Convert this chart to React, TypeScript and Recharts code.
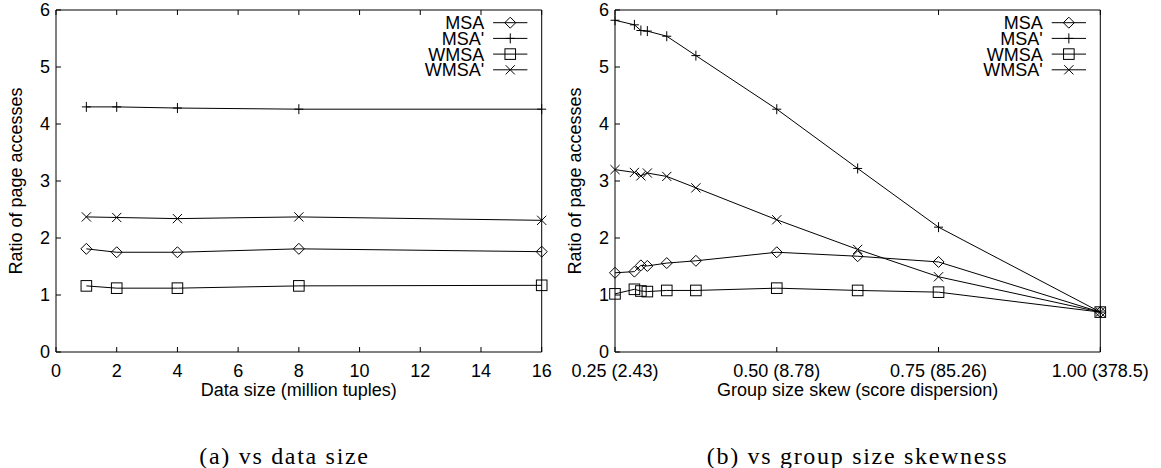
import React from "react";
import { LineChart, Line, XAxis, YAxis, Legend } from "recharts";

const FONT = "'Liberation Sans', Arial, Helvetica, sans-serif";
const SERIF = "'Liberation Serif', 'Times New Roman', serif";

// (a) vs data size
const dataSizes = [1, 2, 4, 8, 16];
const sizeMSA = [1.81, 1.75, 1.75, 1.81, 1.76];
const sizeMSAp = [4.3, 4.3, 4.28, 4.26, 4.26];
const sizeWMSA = [1.16, 1.12, 1.12, 1.16, 1.17];
const sizeWMSAp = [2.37, 2.36, 2.34, 2.37, 2.31];
const sizeTicks = [0, 2, 4, 6, 8, 10, 12, 14, 16];

// (b) vs group size skewness
const skews = [0.25, 0.28, 0.29, 0.3, 0.33, 0.375, 0.5, 0.625, 0.75, 1.0];
const skewMSA = [1.39, 1.41, 1.52, 1.51, 1.56, 1.6, 1.75, 1.68, 1.58, 0.7];
const skewMSAp = [5.82, 5.74, 5.64, 5.63, 5.54, 5.2, 4.26, 3.22, 2.19, 0.7];
const skewWMSA = [1.02, 1.1, 1.07, 1.06, 1.08, 1.08, 1.12, 1.08, 1.05, 0.7];
const skewWMSAp = [3.2, 3.15, 3.09, 3.14, 3.08, 2.88, 2.32, 1.8, 1.32, 0.7];
const skewTicks = [0.25, 0.5, 0.75, 1.0];
const skewTickLabels = ["0.25 (2.43)", "0.50 (8.78)", "0.75 (85.26)", "1.00 (378.5)"];

const ratioTicks = [0, 1, 2, 3, 4, 5, 6];

const seriesKeys = ["msa", "msaP", "wmsa", "wmsaP"];
const seriesNames = ["MSA", "MSA'", "WMSA", "WMSA'"];
const seriesShapes = ["diamond", "plus", "square", "cross"];

const sizeRows = dataSizes.map((x, i) => ({
  x,
  msa: sizeMSA[i],
  msaP: sizeMSAp[i],
  wmsa: sizeWMSA[i],
  wmsaP: sizeWMSAp[i],
}));

const skewRows = skews.map((x, i) => ({
  x,
  msa: skewMSA[i],
  msaP: skewMSAp[i],
  wmsa: skewWMSA[i],
  wmsaP: skewWMSAp[i],
}));

// layout (gnuplot-like boxed plot)
const PLOT_TOP = 10;
const CHART_H = 408;
const BOTTOM_AXIS_H = 56;
const Y_AXIS_W = 56;
const TICK_LEN = 5;
const XLABEL_GAP = 24.5;
const YLABEL_GAP = 6;

function Marker({ cx, cy, shape }: { cx?: number; cy?: number; shape: string }) {
  if (cx == null || cy == null) return null;
  if (shape === "diamond") {
    const r = 5.5;
    return (
      <polygon
        points={`${cx},${cy - r} ${cx + r},${cy} ${cx},${cy + r} ${cx - r},${cy}`}
        fill="none"
        stroke="#000"
      />
    );
  }
  if (shape === "plus") {
    return <path d={`M${cx - 4.5},${cy}H${cx + 4.5}M${cx},${cy - 5}V${cy + 5}`} stroke="#000" fill="none" />;
  }
  if (shape === "square") {
    const r = 5.3;
    return <rect x={cx - r} y={cy - r} width={2 * r} height={2 * r} fill="none" stroke="#000" />;
  }
  const r = 4.6;
  return (
    <path
      d={`M${cx - r},${cy - r}L${cx + r},${cy + r}M${cx - r},${cy + r}L${cx + r},${cy - r}`}
      stroke="#000"
      fill="none"
    />
  );
}

function BottomTick(props: any) {
  const { x, y, payload, format } = props;
  const axisY = y - XLABEL_GAP;
  return (
    <g>
      <line x1={x} x2={x} y1={axisY} y2={axisY - TICK_LEN} stroke="#000" />
      <text x={x} y={y} textAnchor="middle" fontSize={18} fontFamily={FONT} fill="#000">
        {format ? format(payload.value) : payload.value}
      </text>
    </g>
  );
}

function TopTick(props: any) {
  const { x, y } = props;
  return <line x1={x} x2={x} y1={y} y2={y + TICK_LEN} stroke="#000" />;
}

function LeftTick(props: any) {
  const { x, y, payload } = props;
  const axisX = x + YLABEL_GAP;
  return (
    <g>
      <line x1={axisX} x2={axisX + TICK_LEN} y1={y} y2={y} stroke="#000" />
      <text x={x} y={y + 6.4} textAnchor="end" fontSize={18} fontFamily={FONT} fill="#000">
        {payload.value}
      </text>
    </g>
  );
}

function RightTick(props: any) {
  const { x, y } = props;
  return <line x1={x} x2={x - TICK_LEN} y1={y} y2={y} stroke="#000" />;
}

function YTitle(props: any) {
  const { viewBox } = props;
  const bx = viewBox.x + 22.2;
  const cy = viewBox.y + viewBox.height / 2;
  return (
    <text
      x={bx}
      y={cy}
      transform={`rotate(-90 ${bx} ${cy})`}
      textAnchor="middle"
      fontSize={18}
      fontFamily={FONT}
      fill="#000"
    >
      Ratio of page accesses
    </text>
  );
}

function XTitle(props: any) {
  const { viewBox, text } = props;
  return (
    <text
      x={viewBox.x + viewBox.width / 2}
      y={viewBox.y + 44}
      textAnchor="middle"
      fontSize={18}
      fontFamily={FONT}
      fill="#000"
    >
      {text}
    </text>
  );
}

function makeLegend(plotRight: number, width: number) {
  return (props: any) => {
    const payload = props.payload || [];
    return (
      <svg width={width} height={80} style={{ display: "block" }}>
        {payload.map((entry: any, i: number) => {
          const idx = seriesKeys.indexOf(entry.dataKey);
          const cy = 22.7 + i * 15.7;
          const x0 = plotRight - 48.6;
          const x1 = plotRight - 14.3;
          return (
            <g key={entry.dataKey}>
              <text
                x={plotRight - 57.5}
                y={cy + 6.4}
                textAnchor="end"
                fontSize={18}
                fontFamily={FONT}
                fill="#000"
              >
                {entry.value}
              </text>
              <line x1={x0} x2={x1} y1={cy} y2={cy} stroke="#000" />
              <Marker cx={(x0 + x1) / 2} cy={cy} shape={seriesShapes[idx]} />
            </g>
          );
        })}
      </svg>
    );
  };
}

interface PanelProps {
  rows: Array<Record<string, number>>;
  width: number;
  plotRight: number;
  xDomain: [number, number];
  xTicks: number[];
  xFormat?: (v: number) => string;
  xTitle: string;
}

function Panel({ rows, width, plotRight, xDomain, xTicks, xFormat, xTitle }: PanelProps) {
  const marginRight = width - 1 - plotRight;
  return (
    <LineChart
      width={width}
      height={CHART_H}
      data={rows}
      margin={{ top: PLOT_TOP - 1, right: marginRight, bottom: 0, left: 0 }}
    >
      <XAxis
        dataKey="x"
        type="number"
        domain={xDomain}
        ticks={xTicks}
        interval={0}
        height={BOTTOM_AXIS_H}
        axisLine={{ stroke: "#000" }}
        tickLine={false}
        tickSize={0}
        tickMargin={XLABEL_GAP}
        tick={<BottomTick format={xFormat} />}
        label={<XTitle text={xTitle} />}
      />
      <XAxis
        xAxisId="top"
        orientation="top"
        dataKey="x"
        type="number"
        domain={xDomain}
        ticks={xTicks}
        interval={0}
        height={1}
        axisLine={{ stroke: "#000" }}
        tickLine={false}
        tickSize={0}
        tickMargin={0}
        tick={<TopTick />}
      />
      <YAxis
        type="number"
        domain={[0, 6]}
        ticks={ratioTicks}
        interval={0}
        width={Y_AXIS_W}
        axisLine={{ stroke: "#000" }}
        tickLine={false}
        tickSize={0}
        tickMargin={YLABEL_GAP}
        tick={<LeftTick />}
        label={<YTitle />}
      />
      <YAxis
        yAxisId="right"
        orientation="right"
        type="number"
        domain={[0, 6]}
        ticks={ratioTicks}
        interval={0}
        width={1}
        axisLine={{ stroke: "#000" }}
        tickLine={false}
        tickSize={0}
        tickMargin={0}
        tick={<RightTick />}
      />
      <Legend
        align="center"
        verticalAlign="middle"
        layout="horizontal"
        content={makeLegend(plotRight, width)}
        wrapperStyle={{ top: 0, left: 0, width, height: 80, margin: 0 }}
      />
      {seriesKeys.map((key, i) => (
        <Line
          key={key}
          type="linear"
          dataKey={key}
          name={seriesNames[i]}
          stroke="#000"
          strokeWidth={1}
          dot={(p: any) => <Marker key={`${key}-${p.index}`} cx={p.cx} cy={p.cy} shape={seriesShapes[i]} />}
          activeDot={false}
          isAnimationActive={false}
        />
      ))}
    </LineChart>
  );
}

export default function App() {
  return (
    <div
      style={{
        position: "absolute",
        left: 0,
        top: 0,
        width: 1161,
        height: 468,
        background: "#fff",
        overflow: "hidden",
      }}
    >
      <div style={{ position: "absolute", left: 0, top: 0 }}>
        <Panel
          rows={sizeRows}
          width={580}
          plotRight={541.7}
          xDomain={[0, 16]}
          xTicks={sizeTicks}
          xTitle="Data size (million tuples)"
        />
      </div>
      <div style={{ position: "absolute", left: 559, top: 0 }}>
        <Panel
          rows={skewRows}
          width={600}
          plotRight={541.3}
          xDomain={[0.25, 1.0]}
          xTicks={skewTicks}
          xFormat={(v) => skewTickLabels[skewTicks.indexOf(v)]}
          xTitle="Group size skew (score dispersion)"
        />
      </div>
      <svg
        width={1161}
        height={468}
        style={{ position: "absolute", left: 0, top: 0, pointerEvents: "none" }}
      >
        <text x={284.5} y={464} textAnchor="middle" fontSize={24} letterSpacing={1.7} fontFamily={SERIF} fill="#000">
          (a) vs data size
        </text>
        <text x={857.5} y={464} textAnchor="middle" fontSize={24} letterSpacing={1.7} fontFamily={SERIF} fill="#000">
          (b) vs group size skewness
        </text>
      </svg>
    </div>
  );
}
